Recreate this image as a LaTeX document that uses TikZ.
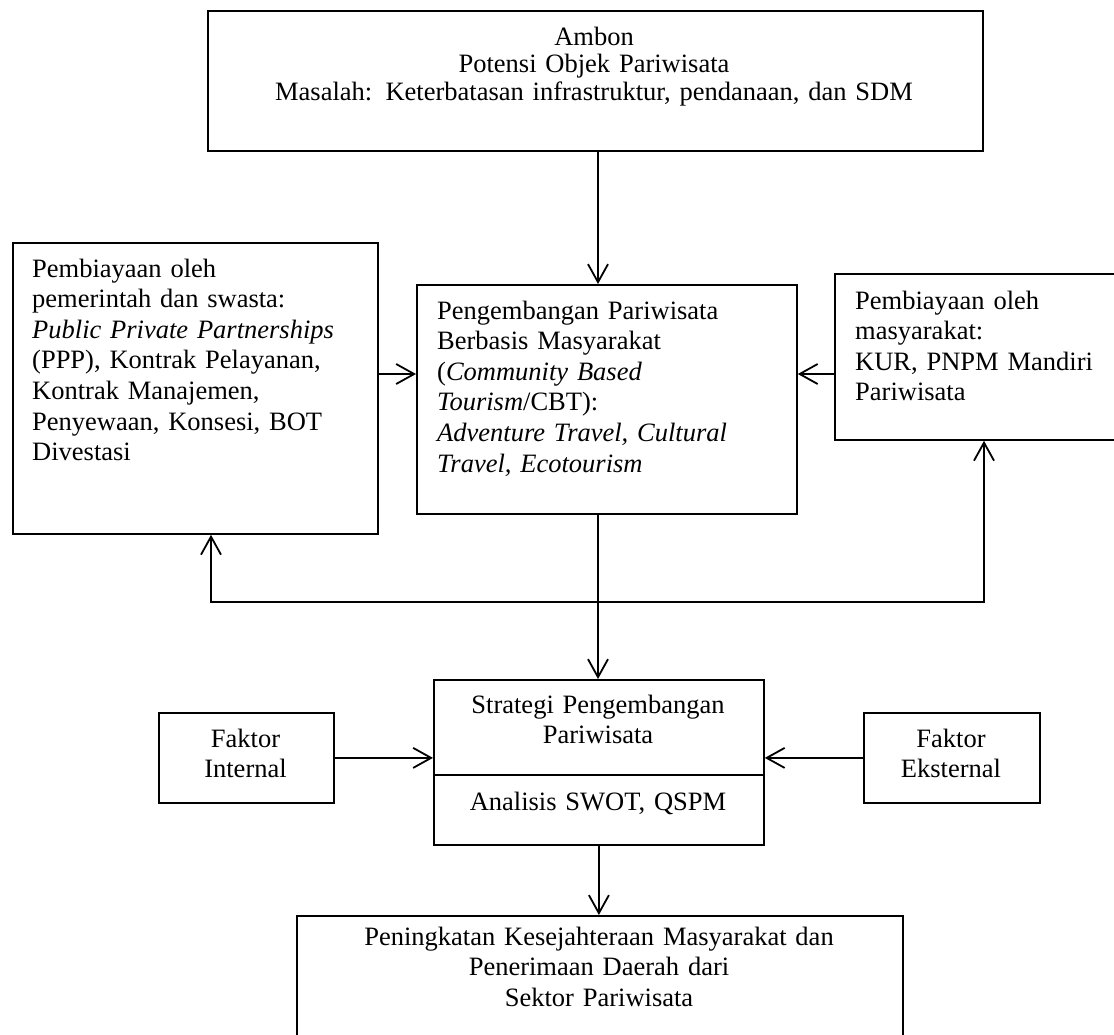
\documentclass[tikz,border=0pt]{standalone}
\usepackage{fontspec}
\setmainfont{Liberation Serif}
\usetikzlibrary{arrows.meta}
\begin{document}
\begin{tikzpicture}[x=1pt,y=-1pt,
  box/.style={draw, line width=1.8pt, inner sep=0pt, anchor=north west},
  txt/.style={inner sep=0pt, font=\fontsize{26.5}{30.6}\selectfont},
  ltxt/.style={txt, anchor=base west, text width=420pt, align=left},
  ctxt/.style={txt, anchor=base, text width=600pt, align=center},
  arr/.style={line width=1.8pt, -{Straight Barb[length=18pt,width=20pt]}},
  conn/.style={line width=1.8pt}]
\clip (0,0) rectangle (1114,1034);
\fill[white] (0,0) rectangle (1114,1034);

% boxes
\node[box, minimum width=775pt, minimum height=140pt] (top) at (207,10) {};
\node[box, minimum width=380pt, minimum height=229pt] (mid) at (416,284) {};
\node[box, minimum width=365pt, minimum height=291pt] (left) at (12,242) {};
\node[box, minimum width=300pt, minimum height=166pt] (right) at (834,273) {};
\node[box, minimum width=330pt, minimum height=165pt] (strat) at (433,679) {};
\node[box, minimum width=175pt, minimum height=90pt] (fint) at (158,712) {};
\node[box, minimum width=176pt, minimum height=90pt] (feks) at (863,712) {};
\node[box, minimum width=606pt, minimum height=160pt] (bot) at (296,915) {};

% texts
\node[ctxt, text width=770pt, font=\fontsize{26.5}{27.5}\selectfont] (toptxt) at (594,45)
  {Ambon\\Potensi Objek Pariwisata\\Masalah: Keterbatasan infrastruktur, pendanaan, dan SDM};
\node[ltxt] (midtxt) at (437,319)
  {Pengembangan Pariwisata\\Berbasis Masyarakat\\(\textit{Community Based}\\\textit{Tourism}/CBT):\\\textit{Adventure Travel, Cultural}\\\textit{Travel, Ecotourism}};
\node[ltxt] (lefttxt) at (32,277)
  {Pembiayaan oleh\\pemerintah dan swasta:\\\textit{Public Private Partnerships}\\(PPP), Kontrak Pelayanan,\\Kontrak Manajemen,\\Penyewaan, Konsesi, BOT\\Divestasi};
\node[ltxt] (righttxt) at (855,309)
  {Pembiayaan oleh\\masyarakat:\\KUR, PNPM Mandiri\\Pariwisata};
\node[ctxt, text width=320pt] (strattxt) at (598,713) {Strategi Pengembangan\\Pariwisata};
\node[ctxt, text width=320pt] (anatxt) at (598,810) {Analisis SWOT, QSPM};
\node[ctxt, text width=170pt] (finttxt) at (245.5,747) {Faktor\\Internal};
\node[ctxt, text width=170pt] (fekstxt) at (951,747) {Faktor\\Eksternal};
\node[ctxt] (bottxt) at (599,945)
  {Peningkatan Kesejahteraan Masyarakat dan\\Penerimaan Daerah dari\\Sektor Pariwisata};

% helper coordinates
\coordinate (vx) at (598,0);
\coordinate (hy) at (0,374);
\coordinate (bl) at (211,602);
\coordinate (br) at (984,602);
\coordinate (dv) at (0,775);

% divider in strategy box
\draw[conn] (strat.west |- dv) -- (strat.east |- dv);

% connectors
\draw[arr] (vx |- top.south) -- (vx |- mid.north);
\draw[arr] (left.east |- hy) -- (mid.west |- hy);
\draw[arr] (right.west |- hy) -- (mid.east |- hy);
\draw[arr] (vx |- mid.south) -- (vx |- strat.north);
\draw[arr] (vx |- bl) -- (bl) -- (bl |- left.south);
\draw[arr] (vx |- br) -- (br) -- (br |- right.south);
\draw[arr] (fint.east) -- (strat.west |- fint.east);
\draw[arr] (feks.west) -- (strat.east |- feks.west);
\draw[arr] (strat.south) -- (strat.south |- bot.north);
\end{tikzpicture}
\end{document}
